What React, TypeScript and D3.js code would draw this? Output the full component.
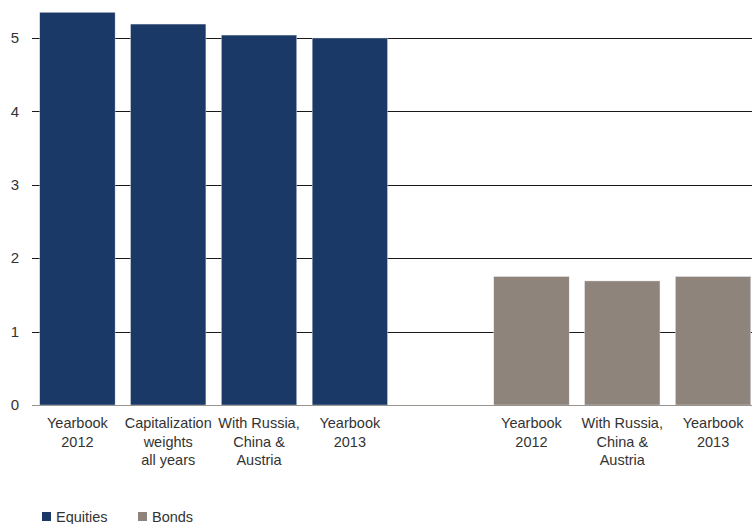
import React from "react";
import * as d3 from "d3";

const categories = ["eq1", "eq2", "eq3", "eq4", "gap", "bd1", "bd2", "bd3"];
const categoryLabels: string[][] = [
  ["Yearbook", "2012"],
  ["Capitalization", "weights", "all years"],
  ["With Russia,", "China &", "Austria"],
  ["Yearbook", "2013"],
  [],
  ["Yearbook", "2012"],
  ["With Russia,", "China &", "Austria"],
  ["Yearbook", "2013"],
];
const seriesNames = ["Equities", "Bonds"];
const equitiesValues = [5.35, 5.19, 5.04, 5.0];
const bondsValues = [1.75, 1.69, 1.75];
const yTicks = [0, 1, 2, 3, 4, 5];
const colors = ["#1b3966", "#8e847b"];

const W = 752;
const H = 524;

export default function App() {
  const x = d3.scaleBand<string>().domain(categories).range([32, 758.5]).paddingInner(0.17).paddingOuter(0.085);
  const y = d3.scaleLinear().domain([0, 5]).range([405, 38]);

  const bars: { cat: string; v: number; color: string }[] = [];
  equitiesValues.forEach((v, i) => bars.push({ cat: categories[i], v, color: colors[0] }));
  bondsValues.forEach((v, i) => bars.push({ cat: categories[5 + i], v, color: colors[1] }));

  const font = "'Liberation Sans', Arial, sans-serif";

  return (
    <svg width={W} height={H} style={{ position: "absolute", left: 0, top: 0 }} fontFamily={font}>
      {yTicks.filter((t) => t > 0).map((t) => (
        <line key={t} x1={32} x2={W} y1={Math.round(y(t)) + 0.5} y2={Math.round(y(t)) + 0.5} stroke="#1a1a1a" strokeWidth={1} />
      ))}
      {bars.map((b, i) => (
        <rect
          key={i}
          x={x(b.cat)!}
          y={y(b.v)}
          width={x.bandwidth()}
          height={y(0) - y(b.v)}
          fill={b.color}
          stroke="#e8ecf2"
          strokeWidth={0.4}
        />
      ))}
      <line x1={32} x2={W} y1={y(0) + 0.5} y2={y(0) + 0.5} stroke="#9a948e" strokeWidth={1.2} />
      {yTicks.map((t) => (
        <text key={t} x={19} y={y(t)} dy="0.35em" textAnchor="end" fontSize={15} fill="#333">
          {t}
        </text>
      ))}
      {categories.map((c, i) => (
        <text key={c} x={x(c)! + x.bandwidth() / 2} y={428} textAnchor="middle" fontSize={14.5} fill="#333">
          {categoryLabels[i].map((l, j) => (
            <tspan key={j} x={x(c)! + x.bandwidth() / 2} dy={j === 0 ? 0 : 18.5}>
              {l}
            </tspan>
          ))}
        </text>
      ))}
      {seriesNames.map((s, i) => (
        <g key={s} transform={`translate(${42 + i * 96},0)`}>
          <rect x={0} y={512} width={9} height={9} fill={colors[i]} />
          <text x={14} y={522} fontSize={14.5} fill="#333">
            {s}
          </text>
        </g>
      ))}
    </svg>
  );
}
